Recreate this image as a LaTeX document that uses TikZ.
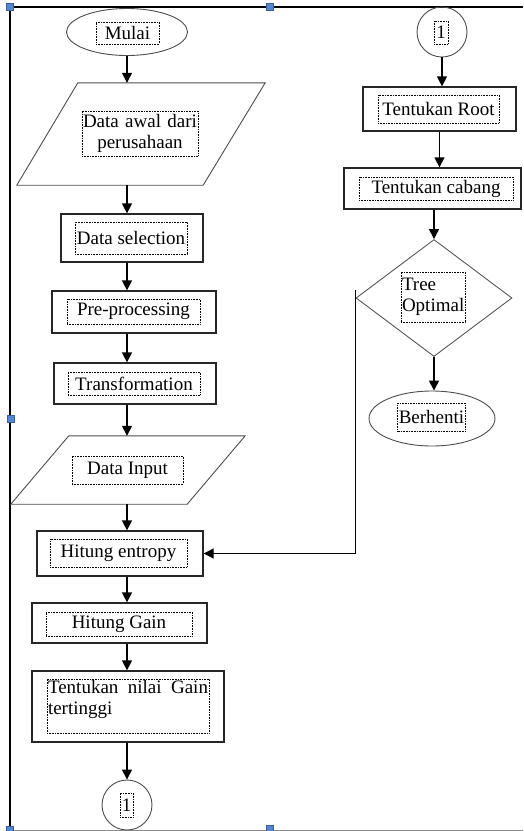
\documentclass[tikz,border=0pt]{standalone}
\usepackage{fontspec}
\setmainfont{Liberation Serif}
\usetikzlibrary{arrows.meta,shapes.geometric,calc}
\definecolor{handleblue}{RGB}{84,134,214}

\begin{document}
\begin{tikzpicture}[x=1pt,y=-1pt,font=\rmfamily\fontsize{19}{21}\selectfont]
	\tikzset{proc/.style = {draw=black!85,line width=1.3pt,inner sep=0pt}}
	\tikzset{term/.style = {ellipse,draw=black!70,line width=.9pt,inner sep=0pt}}
	\tikzset{conn/.style = {circle,draw=black!70,line width=.9pt,minimum size=50pt,inner sep=0pt}}
	\tikzset{choice/.style = {diamond,draw=black!65,line width=.9pt,inner sep=0pt}}
	\tikzset{io/.style = {draw=black!70,line width=.9pt}}
	\tikzset{txt/.style = {draw,densely dotted,line width=.6pt,inner sep=1pt}}
	\tikzset{arr/.style = {-{Triangle[length=10pt,width=10pt]},line width=1.4pt}}
	\tikzset{handle/.style = {fill=handleblue,draw=handleblue!70!black,line width=.4pt,minimum size=7pt,inner sep=0pt}}

	\useasboundingbox (0,0) rectangle (523,831);

	% frame
	\draw[line width=2.4pt] (10,831) -- (10,7) -- (523,7);
	\draw[black!45,line width=1pt] (10,830) -- (523,830);

	% left column
	\node[term,minimum width=121pt,minimum height=47pt] (mulai) at (127,32) {};
	\node[txt,minimum width=63pt,minimum height=22pt] (mulait) at (127.5,33) {Mulai};
	\node[inner sep=0pt,minimum width=248pt,minimum height=102pt] (awal) at (141,134) {};
	\draw[io] ($(awal.north west)+(61,0)$) -- (awal.north east) -- ($(awal.south east)-(62,0)$) -- (awal.south west) -- cycle;
	\node[txt,text width=114pt,align=center,minimum height=45pt] (awalt) at (140,133.5) {Data awal dari\\perusahaan};
	\node[proc,minimum width=142pt,minimum height=48pt] (sel) at (132,238) {};
	\node[txt,minimum width=112pt,minimum height=32pt] (selt) at (131,238) {Data selection};
	\node[proc,minimum width=164pt,minimum height=42pt] (pre) at (134,312) {};
	\node[txt,minimum width=133pt,minimum height=25pt] (pret) at (133.5,311.5) {Pre-processing};
	\node[proc,minimum width=162pt,minimum height=41pt] (trans) at (135,383.5) {};
	\node[txt,minimum width=132pt,minimum height=23pt] (transt) at (134,383.5) {Transformation};
	\node[inner sep=0pt,minimum width=234pt,minimum height=68pt] (inp) at (128,470) {};
	\draw[io] ($(inp.north west)+(58,0)$) -- (inp.north east) -- ($(inp.south east)-(58,0)$) -- (inp.south west) -- cycle;
	\node[txt,minimum width=111pt,minimum height=28pt] (inpt) at (127.5,470) {Data Input};
	\node[proc,minimum width=166pt,minimum height=45pt] (ent) at (120,553.5) {};
	\node[txt,minimum width=137pt,minimum height=28pt] (entt) at (118.5,553) {Hitung entropy};
	\node[proc,minimum width=175pt,minimum height=40pt] (gain) at (119.5,623) {};
	\node[txt,minimum width=146pt,minimum height=24pt] (gaint) at (119,624) {Hitung Gain};
	\node[proc,minimum width=192pt,minimum height=71pt] (best) at (128,706.5) {};
	\node[txt] (bestt) at (128,706) {\parbox[c][52pt][t]{160pt}{Tentukan nilai Gain tertinggi}};
	\node[conn] (c1) at (127,805) {};
	\node[txt,minimum width=13pt,minimum height=24pt] (c1t) at (126.5,805) {1};

	% right column
	\node[conn] (c2) at (442,32) {};
	\node[txt,minimum width=14pt,minimum height=23pt] (c2t) at (441,32.5) {1};
	\node[proc,minimum width=153pt,minimum height=44pt] (root) at (439.5,109) {};
	\node[txt,minimum width=121pt,minimum height=28pt] (roott) at (438.5,109) {Tentukan Root};
	\node[proc,minimum width=177pt,minimum height=41pt] (cab) at (432.5,188.5) {};
	\node[txt,minimum width=154pt,minimum height=23pt] (cabt) at (436,188.5) {Tentukan cabang};
	\node[choice,minimum width=156pt,minimum height=117pt] (opt) at (434,298) {};
	\node[txt,text width=62pt,align=left,minimum height=50pt] (optt) at (433,297) {Tree\\Optimal};
	\node[term,minimum width=126pt,minimum height=55pt] (stop) at (432,418.5) {};
	\node[txt,minimum width=67pt,minimum height=28pt] (stopt) at (431.5,417) {Berhenti};

	% edges
	\draw[arr] (mulai.south) -- (mulai.south |- awal.north);
	\draw[arr] (awal.south -| mulai) -- (sel.north -| mulai);
	\draw[arr] (sel.south -| mulai) -- (pre.north -| mulai);
	\draw[arr] (pre.south -| mulai) -- (trans.north -| mulai);
	\draw[arr] (trans.south -| mulai) -- (inp.north -| mulai);
	\draw[arr] (inp.south -| mulai) -- (ent.north -| mulai);
	\draw[arr] (ent.south -| mulai) -- (gain.north -| mulai);
	\draw[arr] (gain.south -| mulai) -- (best.north -| mulai);
	\draw[arr] (best.south -| mulai) -- (c1.north);
	\draw[arr] (c2.south) -- (c2.south |- root.north);
	\draw[arr] (root.south) -- (root.south |- cab.north);
	\draw[arr] (cab.south -| opt) -- (opt.north);
	\draw[arr] (opt.south) -- (opt.south |- stop.north);
	\draw[arr,line width=1pt] ([yshift=8pt]opt.west) |- (ent.east);

	% handles
	\foreach \i/\p in {1/{(10,7)},2/{(270,7)},3/{(11,419)},4/{(270,829)},5/{(10,830)}}
		\node[handle] (h\i) at \p {};
\end{tikzpicture}
\end{document}
